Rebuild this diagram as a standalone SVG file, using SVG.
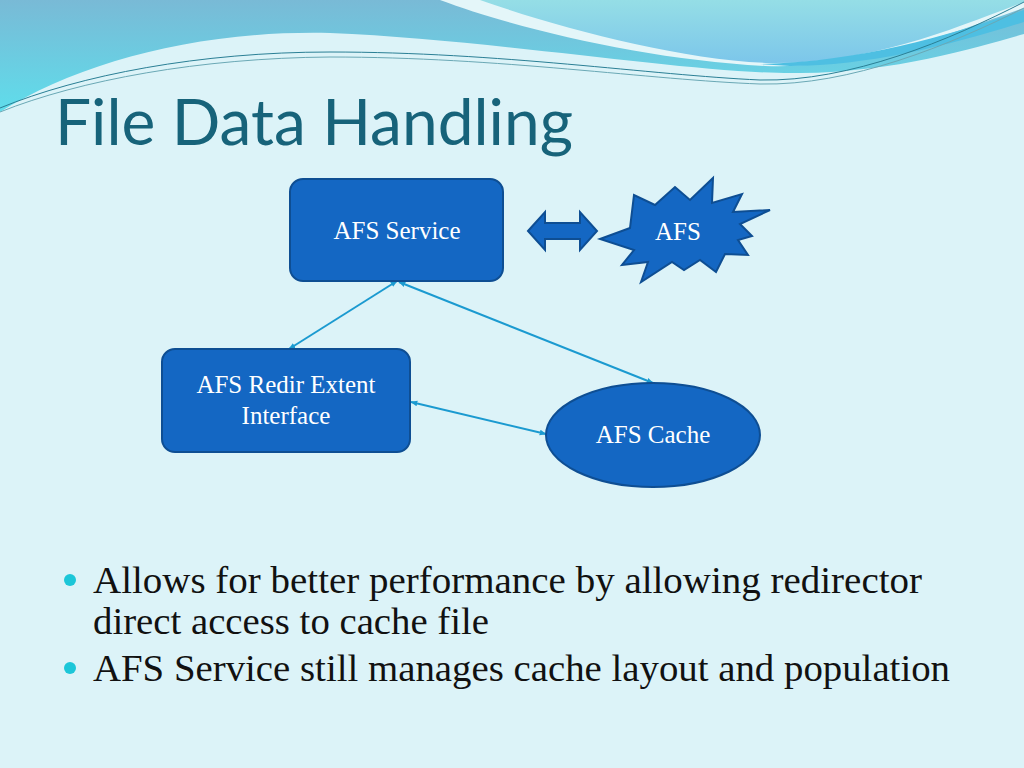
<svg xmlns="http://www.w3.org/2000/svg" width="1024" height="768" viewBox="0 0 1024 768">
<defs>
<style>
.node{fill:#1467C3;stroke:#0E4E93;stroke-width:2}
.lbl{font-family:"Liberation Serif",serif;font-size:25px;fill:#ffffff;text-anchor:middle}
.conn{stroke:#1B9AD0;stroke-width:2;fill:none;marker-start:url(#ah);marker-end:url(#ah)}
.bul{font-family:"Liberation Serif",serif;font-size:38px;fill:#111111}
.dot{fill:#1CC6D8}
</style>
<marker id="ah" viewBox="0 0 10 10" refX="9" refY="5" markerWidth="7" markerHeight="7" orient="auto-start-reverse" markerUnits="userSpaceOnUse">
<path d="M0,1 L10,5 L0,9 Z" fill="#1B9AD0"/>
</marker>
<linearGradient id="gTop" x1="0" y1="0" x2="0" y2="1">
<stop offset="0" stop-color="#79BAD6"/>
<stop offset="1" stop-color="#5FDDEB"/>
</linearGradient>
<linearGradient id="gTR" x1="0" y1="0" x2="0" y2="1">
<stop offset="0" stop-color="#95DEE6"/>
<stop offset="1" stop-color="#7CC6EA"/>
</linearGradient>
</defs>
<rect x="0" y="0" width="1024" height="768" fill="#DCF3F8"/>
<g id="header">
<path d="M0,0 H1024 V34 C980,46 900,72 800,73 C700,75 500,40 330,33 C200,30 80,62 0,112 Z" fill="url(#gTop)"/>
<path d="M440,0 C520,30 650,60 765,66 C860,70 960,30 1024,8 V0 Z" fill="#E4F6F9"/>
<path d="M480,0 C560,28 680,60 770,63 C870,64 950,30 1024,2 V0 Z" fill="url(#gTR)"/>
<path d="M760,64 C860,62 950,35 1024,10 V22 C950,45 870,66 790,66 Z" fill="#4EBFE2"/>
<path d="M0,108 C80,75 200,52 330,52 C500,52 650,75 760,80 C850,82 950,40 1024,2" fill="none" stroke="#2A7F95" stroke-width="1"/>
<path d="M0,112 C80,80 200,58 330,57 C500,57 650,80 760,84 C850,86 950,45 1024,8" fill="none" stroke="#6AA8B5" stroke-width="1"/>
</g>
<text id="title" x="55" y="145" font-family="Lato,'Liberation Sans',sans-serif" font-size="64" fill="#17637A" textLength="518" lengthAdjust="spacingAndGlyphs">File Data Handling</text>
<g id="connectors">
<line class="conn" x1="397" y1="281" x2="289" y2="349"/>
<line class="conn" x1="399" y1="282" x2="653" y2="383"/>
<line class="conn" x1="411" y1="402" x2="546" y2="434"/>
<path d="M528,231 L545,212 L545,223 L580,223 L580,212 L597,231 L580,250 L580,239 L545,239 L545,250 Z" class="node"/>
</g>
<g id="afs-service">
<rect class="node" x="290" y="179" width="213" height="102" rx="13"/>
<text class="lbl" x="397" y="239">AFS Service</text>
</g>
<g id="afs">
<path class="node" d="M600,239 L630,228 L634,195 L655,205 L675,187 L690,200 L713,178 L712,203 L742,194 L733,212 L770,210 L740,224 L752,236 L738,240 L748,255 L725,254 L716,272 L700,260 L684,270 L672,262 L641,282 L648,262 L622,265 L634,250 Z"/>
<text class="lbl" x="678" y="240">AFS</text>
</g>
<g id="redir">
<rect class="node" x="162" y="349" width="248" height="103" rx="13"/>
<text class="lbl" x="286" y="393">AFS Redir Extent</text>
<text class="lbl" x="286" y="424">Interface</text>
</g>
<g id="cache">
<ellipse class="node" cx="653" cy="435" rx="107" ry="52"/>
<text class="lbl" x="653" y="443">AFS Cache</text>
</g>
<g id="bullets">
<circle class="dot" cx="70" cy="580" r="6"/>
<text class="bul" x="93" y="593" textLength="829" lengthAdjust="spacingAndGlyphs">Allows for better performance by allowing redirector</text>
<text class="bul" x="93" y="634" textLength="396" lengthAdjust="spacingAndGlyphs">direct access to cache file</text>
<circle class="dot" cx="70" cy="668" r="6"/>
<text class="bul" x="93" y="681" textLength="857" lengthAdjust="spacingAndGlyphs">AFS Service still manages cache layout and population</text>
</g>
</svg>
